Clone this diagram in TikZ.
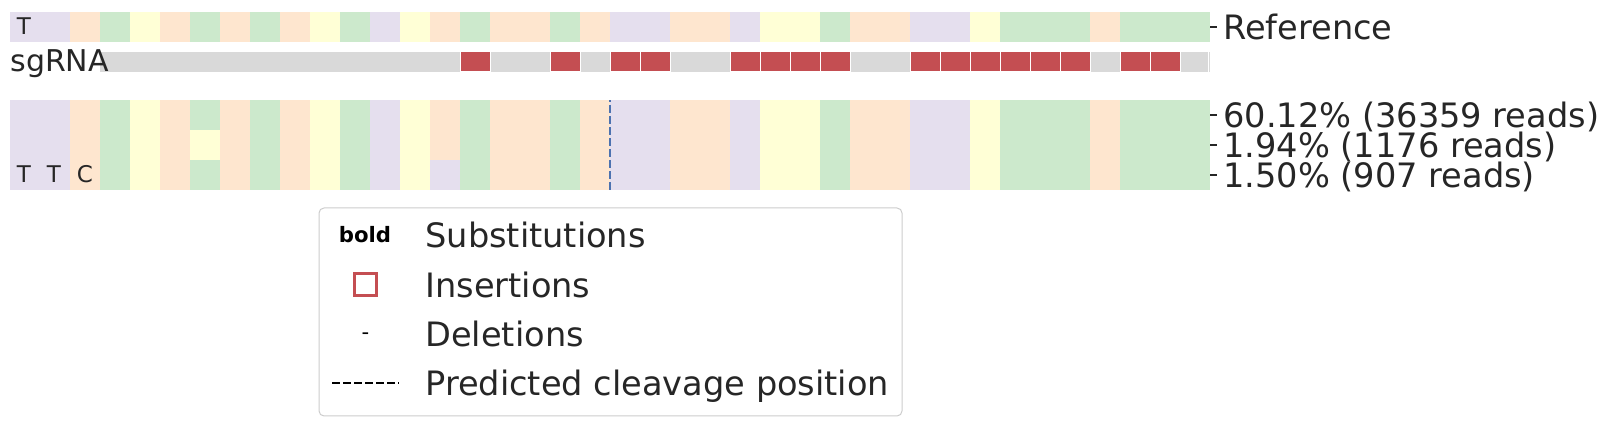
\documentclass[tikz,border=0pt]{standalone}
\usepackage{fontspec}
\setmainfont{DejaVu Sans}
\usepackage{tikz}

\definecolor{baseA}{HTML}{CCE9CC}
\definecolor{baseC}{HTML}{FEE6CF}
\definecolor{baseG}{HTML}{FFFFD6}
\definecolor{baseT}{HTML}{E5DFEE}
\definecolor{insred}{HTML}{C44E52}
\definecolor{sggray}{HTML}{D9D9D9}
\definecolor{txtgray}{HTML}{262626}
\definecolor{cutblue}{HTML}{4C72B0}
\definecolor{legframe}{HTML}{CCCCCC}

\newcommand{\refseq}{T,T,C,A,G,C,A,C,A,C,G,A,T,G,C,A,C,C,A,C,T,T,C,C,T,G,G,A,C,C,T,T,G,A,A,A,C,A,A,A}

\begin{document}
\begin{tikzpicture}[x=0.5pt,y=-0.5pt,
    letter/.style={inner sep=0pt, text=txtgray, font=\fontsize{11.5}{13}\selectfont},
    ticklabel/.style={anchor=base west, inner sep=0pt, yshift=-6.1pt, text=txtgray, font=\fontsize{16.8}{20}\selectfont},
    legtext/.style={anchor=base west, inner sep=0pt, yshift=-6.1pt, text=txtgray, font=\fontsize{16.8}{20}\selectfont}]
                        \useasboundingbox (0,0) rectangle (1609,426);
                        % reference row and the three read rows
                        \foreach \b [count=\i from 0] in \refseq {
                            \fill[base\b] ({10+30*\i},12) rectangle ++(30,30);
                            \fill[base\b] ({10+30*\i},100) rectangle ++(30,90);
                        }
                        \fill[baseG] (190,130) rectangle ++(30,30);
                        \fill[baseT] (430,160) rectangle ++(30,30);
                        \node[letter] (refT) at (24,26) {T};
                        \node[letter] (rdT1) at (24,174) {T};
                        \node[letter] (rdT2) at (54,174) {T};
                        \node[letter] (rdC) at (85,174) {C};
                        % sgRNA bar with insertions
                        \fill[sggray] (100,52) rectangle (1208,72);
                        \fill[sggray] (1208.8,52) rectangle (1210,72);
                        \foreach \c in {15,18,20,21,24,25,26,27,30,31,32,33,34,35,37,38}
                            \filldraw[fill=insred, draw=white, line width=0.5pt] ({10+30*\c},52) rectangle ++(30,20);
                        \node[anchor=base west, inner sep=0pt, text=txtgray, font=\fontsize{15}{18}\selectfont] (sgLbl) at (10,71.5) {sgRNA};
                        % predicted cleavage position
                        \coordinate (cutTop) at (610,100);
                        \coordinate (cutBot) at (610,190);
                        \draw[cutblue, line width=1pt, dash pattern=on 4pt off 1.5pt] (cutBot) -- (cutTop);
                        % ticks and labels on the right
                        \foreach \y in {27,115,145,175}
                            \draw[txtgray, line width=0.6pt] (1210,\y) -- (1217,\y);
                        \node[ticklabel] (lblRef) at (1223,27) {Reference};
                        \node[ticklabel] (lblA) at (1223,115) {60.12\% (36359 reads)};
                        \node[ticklabel] (lblB) at (1223,145) {1.94\% (1176 reads)};
                        \node[ticklabel] (lblC) at (1223,175) {1.50\% (907 reads)};
                        % legend
                        \draw[legframe, line width=0.5pt, rounded corners=2.5pt] (319,208) rectangle (902,416);
                        \node[inner sep=0pt, font=\bfseries\fontsize{10.6}{12}\selectfont] (markSub) at (365,235) {bold};
                        \node[draw=insred, line width=1.5pt, minimum size=11pt, inner sep=0pt] (markIns) at (365.5,284.5) {};
                        \node[anchor=base, inner sep=0pt, font=\fontsize{10.6}{12}\selectfont] (markDel) at (365.5,340) {-};
                        \coordinate (dashL) at (332,383);
                        \coordinate (dashR) at (399,383);
                        \draw[black, line width=0.85pt, dash pattern=on 4pt off 1.5pt] (dashL) -- (dashR);
                        \node[legtext] (txtSub) at (425,235) {Substitutions};
                        \node[legtext] (txtIns) at (425,285) {Insertions};
                        \node[legtext] (txtDel) at (425,334) {Deletions};
                        \node[legtext] (txtCut) at (425,383) {Predicted cleavage position};
                    \end{tikzpicture}
\end{document}
